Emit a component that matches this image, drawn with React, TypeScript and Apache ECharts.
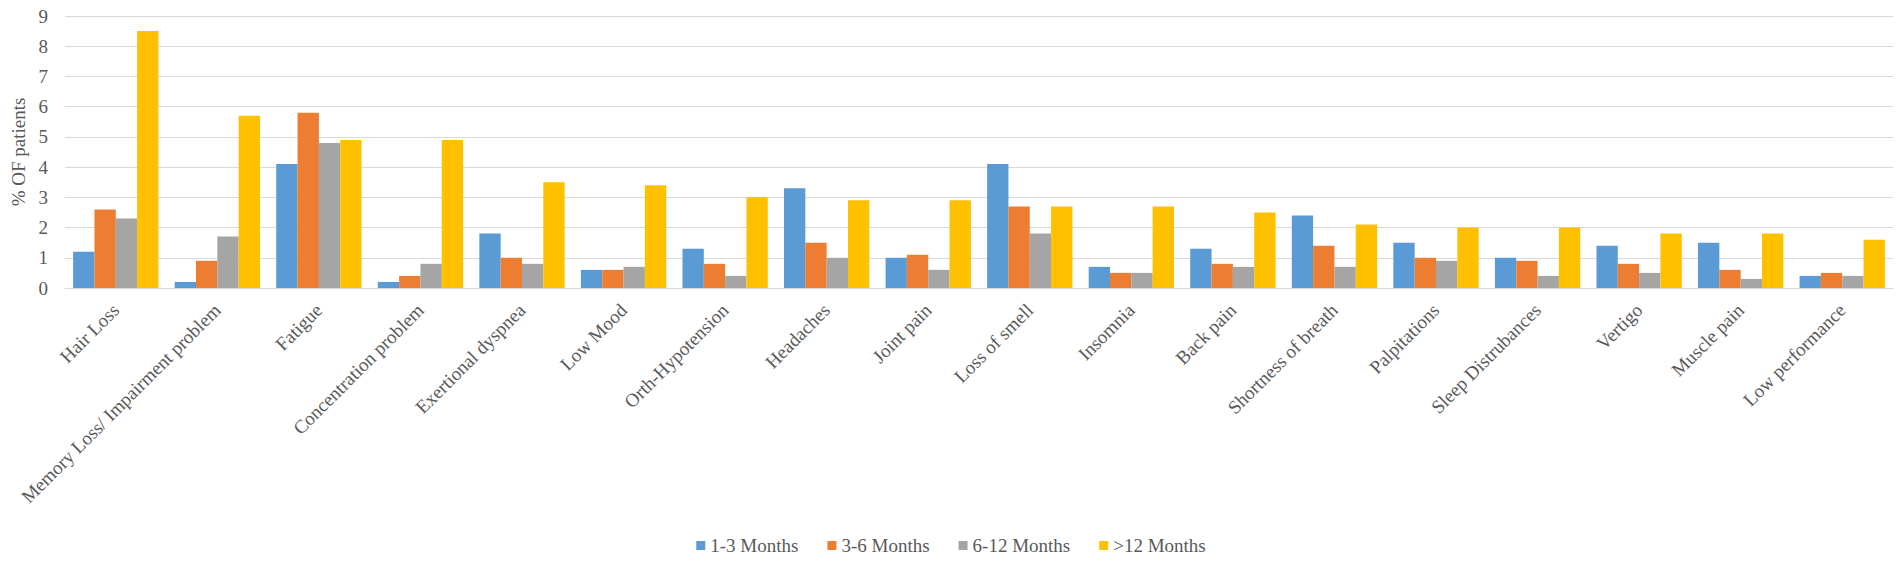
import React, { useEffect, useRef } from "react";
import * as echarts from "echarts";

const categories = [
  "Hair Loss",
  "Memory Loss/ Impairment problem",
  "Fatigue",
  "Concentration problem",
  "Exertional dyspnea",
  "Low Mood",
  "Orth-Hypotension",
  "Headaches",
  "Joint pain",
  "Loss of smell",
  "Insomnia",
  "Back pain",
  "Shortness of breath",
  "Palpitations",
  "Sleep Distrubances",
  "Vertigo",
  "Muscle pain",
  "Low performance",
];

const m1to3 = [1.2, 0.2, 4.1, 0.2, 1.8, 0.6, 1.3, 3.3, 1.0, 4.1, 0.7, 1.3, 2.4, 1.5, 1.0, 1.4, 1.5, 0.4];
const m3to6 = [2.6, 0.9, 5.8, 0.4, 1.0, 0.6, 0.8, 1.5, 1.1, 2.7, 0.5, 0.8, 1.4, 1.0, 0.9, 0.8, 0.6, 0.5];
const m6to12 = [2.3, 1.7, 4.8, 0.8, 0.8, 0.7, 0.4, 1.0, 0.6, 1.8, 0.5, 0.7, 0.7, 0.9, 0.4, 0.5, 0.3, 0.4];
const m12plus = [8.5, 5.7, 4.9, 4.9, 3.5, 3.4, 3.0, 2.9, 2.9, 2.7, 2.7, 2.5, 2.1, 2.0, 2.0, 1.8, 1.8, 1.6];

const yTicks = [0, 1, 2, 3, 4, 5, 6, 7, 8, 9];

const seriesNames = ["1-3 Months", "3-6 Months", "6-12 Months", ">12 Months"];
const seriesColors = ["#5B9BD5", "#ED7D31", "#A5A5A5", "#FFC000"];
const seriesData = [m1to3, m3to6, m6to12, m12plus];

const FONT = "'Liberation Serif', 'Times New Roman', serif";

export default function App() {
  const ref = useRef<HTMLDivElement>(null);
  useEffect(() => {
    document.body.style.margin = "0";
    if (!ref.current) return;
    const chart = echarts.init(ref.current, undefined, { renderer: "svg" });
    chart.setOption({
      animation: false,
      backgroundColor: "#ffffff",
      textStyle: { fontFamily: FONT },
      grid: { left: 65, right: 9, top: 16, bottom: 273, containLabel: false },
      legend: {
        data: seriesNames,
        bottom: 1,
        left: "center",
        itemWidth: 9,
        itemHeight: 9,
        itemGap: 29,
        icon: "rect",
        textStyle: { fontFamily: FONT, fontSize: 19, color: "#595959" },
      },
      xAxis: {
        type: "category",
        data: categories,
        axisTick: { show: false },
        axisLine: { lineStyle: { color: "#D9D9D9", width: 1 } },
        axisLabel: {
          interval: 0,
          rotate: 45,
          margin: 19,
          fontFamily: FONT,
          fontSize: 19,
          color: "#595959",
        },
      },
      yAxis: {
        type: "value",
        min: yTicks[0],
        max: yTicks[yTicks.length - 1],
        interval: 1,
        name: "% OF patients",
        nameLocation: "middle",
        nameGap: 33,
        nameTextStyle: { fontFamily: FONT, fontSize: 19, color: "#595959" },
        axisLine: { show: false },
        axisTick: { show: false },
        splitLine: { lineStyle: { color: "#D9D9D9", width: 1 } },
        axisLabel: { fontFamily: FONT, fontSize: 19, color: "#595959", margin: 17 },
      },
      series: seriesNames.map((name, i) => ({
        name,
        type: "bar",
        data: seriesData[i],
        itemStyle: { color: seriesColors[i] },
        barGap: "0%",
        barCategoryGap: "16%",
      })),
    });
    return () => chart.dispose();
  }, []);
  return <div ref={ref} style={{ width: 1902, height: 561 }} />;
}
